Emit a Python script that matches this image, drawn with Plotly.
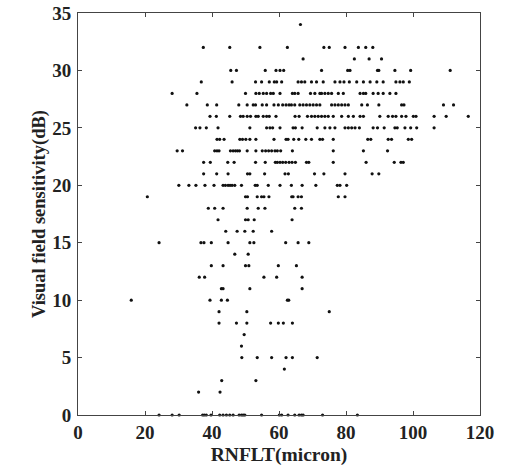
import plotly.graph_objects as go

# Points grouped by visual-field sensitivity (dB) row; RNFLT values in micron
rnflt = [
    66.4,                                                              # 34
    37.4, 45.3, 54.3, 62.5, 73.4, 75.0, 79.7, 83.7, 85.9, 88.0,        # 32
    67.2, 82.5, 86.9, 90.6,                                            # 31
    45.6, 47.3, 55.9, 59.1, 60.3, 61.4, 72.7, 80.5, 81.2, 89.4, 89.8,
    94.6, 99.3, 111.1,                                                 # 30
    36.8, 46.0, 53.0, 54.8, 57.1, 58.6, 59.3, 60.8, 65.7, 66.7, 67.7,
    69.7, 71.2, 73.2, 76.7, 78.2, 79.4, 81.0, 83.2, 85.2, 87.2, 89.2,
    91.1, 94.9, 96.1, 97.1, 98.9,                                      # 29
    28.1, 35.5, 50.0, 53.1, 54.1, 55.3, 56.3, 57.5, 58.3, 60.3, 64.0,
    64.7, 65.7, 69.4, 70.7, 72.2, 72.7, 73.7, 74.7, 75.7, 77.7, 79.2,
    84.2, 85.2, 85.9, 88.1, 89.6, 91.1, 93.1, 94.9,                    # 28
    32.5, 38.6, 41.4, 48.0, 50.5, 52.3, 53.0, 55.0, 56.3, 58.5, 59.8,
    61.1, 62.1, 63.0, 63.7, 64.7, 66.2, 67.2, 68.2, 69.2, 70.2, 71.2,
    72.2, 75.7, 76.7, 77.7, 78.7, 79.7, 80.7, 84.7, 86.4, 89.8, 96.6,
    97.3, 109.1, 112.1,                                                # 27
    39.4, 41.3, 45.3, 48.5, 49.3, 50.5, 51.5, 53.1, 53.8, 55.3, 56.3,
    57.1, 59.1, 64.8, 66.0, 68.5, 69.7, 70.7, 71.7, 72.7, 73.7, 74.7,
    76.2, 78.7, 80.7, 82.2, 84.2, 85.2, 90.1, 92.6, 93.9, 94.9, 96.6,
    97.9, 100.1, 100.9, 106.3, 109.9, 116.5,                           # 26
    35.1, 36.4, 38.3, 41.8, 51.3, 56.3, 57.3, 58.1, 60.3, 64.2, 64.9,
    66.9, 71.4, 73.7, 75.2, 76.7, 79.7, 80.7, 81.7, 82.7, 84.0, 88.1,
    89.4, 91.4, 94.6, 95.3, 97.6, 99.3, 101.1, 106.3,                  # 25
    41.5, 42.3, 43.6, 48.3, 49.1, 50.1, 51.3, 53.1, 58.5, 62.1, 62.7,
    64.4, 65.9, 68.0, 69.7, 72.2, 73.0, 76.2, 86.5, 87.4, 92.6, 93.6,
    98.6, 99.6,                                                        # 24
    29.6, 31.2, 40.8, 41.5, 42.1, 45.5, 46.3, 47.0, 47.6, 48.2, 50.5,
    53.1, 55.0, 56.0, 56.9, 57.8, 58.8, 59.5, 60.5, 64.0, 76.2, 85.2,
    92.4,                                                              # 23
    37.5, 39.5, 44.7, 46.6, 53.0, 55.9, 58.9, 59.5, 60.3, 61.1, 62.0,
    63.0, 63.9, 64.9, 68.2, 68.9, 76.2, 86.0, 94.4, 96.4, 97.1,        # 22
    37.5, 41.4, 44.8, 50.6, 51.3, 55.7, 61.8, 62.8, 70.6, 73.4, 79.7,
    87.8, 89.8,                                                        # 21
    30.1, 33.1, 35.2, 37.9, 40.6, 43.3, 44.0, 44.8, 45.4, 46.0, 46.8,
    48.8, 52.9, 53.5, 56.8, 60.3, 63.7, 66.9, 71.0, 77.4, 78.2, 80.2,  # 20
    20.7, 50.0, 50.6, 53.5, 54.8, 55.5, 57.0, 63.8, 64.2, 65.7, 66.7,
    77.7, 79.7,                                                        # 19
    38.9, 40.8, 43.3, 50.5, 53.8, 55.8, 64.7, 66.7,                    # 18
    41.8, 50.0, 50.8, 52.6, 63.9,                                      # 17
    44.1, 47.5, 49.8, 52.3, 57.8,                                      # 16
    24.2, 36.7, 37.6, 39.8, 44.8, 51.3, 52.5, 62.0, 65.7, 68.9,        # 15
    46.8, 50.8,                                                        # 14
    39.8, 43.3, 50.0, 51.0, 59.8, 65.2,                                # 13
    36.2, 37.8, 55.5, 59.3, 66.9,                                      # 12
    42.8, 43.3, 51.3, 66.9,                                            # 11
    15.9, 39.4, 42.8, 44.6, 62.5, 62.9,                                # 10
    42.1, 50.4, 75.0,                                                  # 9
    42.1, 47.3, 50.4, 57.5, 59.8, 61.3, 64.0,                          # 8
    49.6,                                                              # 7
    48.8,                                                              # 6
    48.9, 53.5, 57.8, 62.1, 64.0, 71.4,                                # 5
    61.6,                                                              # 4
    42.9, 53.1,                                                        # 3
    36.0, 42.4,                                                        # 2
    24.2, 28.1, 30.2, 37.2, 37.7, 38.3, 39.7, 42.3, 43.3, 44.3, 45.3,
    46.3, 48.1, 48.8, 49.3, 49.8, 54.8, 60.1, 60.8, 62.7, 64.7, 66.0,
    66.7, 67.2, 73.0, 83.4,                                            # 0
]

row_values = [34, 32, 31, 30, 29, 28, 27, 26, 25, 24, 23, 22, 21, 20,
              19, 18, 17, 16, 15, 14, 13, 12, 11, 10, 9, 8, 7, 6, 5, 4, 3, 2, 0]
row_counts = [1, 10, 4, 14, 27, 30, 36, 39, 30, 24, 23, 21, 13, 22,
              13, 8, 5, 5, 10, 2, 6, 5, 4, 6, 3, 7, 1, 1, 6, 1, 2, 2, 26]

sensitivity = []
for v, c in zip(row_values, row_counts):
    sensitivity.extend([v] * c)

x_ticks = [0, 20, 40, 60, 80, 100, 120]
y_ticks = [0, 5, 10, 15, 20, 25, 30, 35]

n = min(len(rnflt), len(sensitivity))

fig = go.Figure(go.Scatter(
    x=rnflt[:n], y=sensitivity[:n], mode="markers",
    marker=dict(color="#111111", size=3.2, line=dict(width=0)),
    cliponaxis=False, showlegend=False,
))

font_family = "Liberation Serif, Times New Roman, serif"
tick_font = dict(family=font_family, size=19, color="#222222", weight="bold")
axis_common = dict(
    showline=True, linecolor="#444444", linewidth=1, mirror="ticks",
    ticks="inside", ticklen=4, tickcolor="#444444", tickwidth=1,
    showgrid=False, zeroline=False, automargin=False,
    tickfont=tick_font,
)

fig.update_layout(
    width=507, height=470,
    margin=dict(l=78, r=27, t=13, b=55, autoexpand=False),
    paper_bgcolor="white", plot_bgcolor="white",
    font=dict(family=font_family, color="#222222"),
    xaxis=dict(range=[0, 120], tickvals=x_ticks, ticklabelstandoff=0,
               title=dict(text="RNFLT(micron)",
                          font=dict(family=font_family, size=19.5, color="#222222", weight="bold"),
                          standoff=5),
               **axis_common),
    yaxis=dict(range=[0, 35], tickvals=y_ticks, ticklabelstandoff=2,
               title=dict(text="Visual field sensitivity(dB)",
                          font=dict(family=font_family, size=18.5, color="#222222", weight="bold"),
                          standoff=1),
               **axis_common),
)

fig.write_html("out.html", config={"displayModeBar": False},
               post_script="document.body.style.margin='0';document.body.style.padding='0';")
